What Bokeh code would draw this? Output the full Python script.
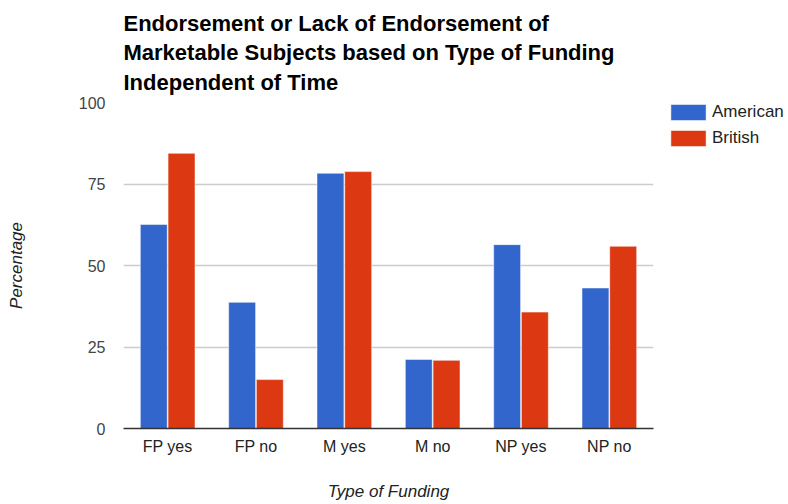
from bokeh.plotting import figure
from bokeh.layouts import row
from bokeh.models import (ColumnDataSource, FactorRange, Range1d, FixedTicker,
                          Legend, LegendItem)
from bokeh.transform import dodge
from bokeh.embed import file_html
from bokeh.resources import INLINE

categories = ["FP yes", "FP no", "M yes", "M no", "NP yes", "NP no"]
american = [62.6, 38.7, 78.3, 21.2, 56.4, 43.1]
british = [84.4, 15.0, 78.8, 20.9, 35.7, 55.9]
y_ticks = [0, 25, 50, 75, 100]
series_names = ["American", "British"]
title_lines = ["Endorsement or Lack of Endorsement of",
               "Marketable Subjects based on Type of Funding",
               "Independent of Time"]

FONT = "Liberation Sans"
BLUE = "#3366cc"
RED = "#dc3912"

src = ColumnDataSource(dict(cat=categories, american=american, british=british))

p = figure(width=660, height=504, output_backend="svg", toolbar_location=None,
           x_range=FactorRange(*categories, range_padding=0), y_range=Range1d(0, 100),
           min_border_left=123, min_border_right=7, min_border_top=102,
           min_border_bottom=76, title="\n".join(title_lines))
p.outline_line_color = None
p.background_fill_color = "white"

bar_style = dict(line_color="white", line_alpha=0.5, line_width=1)
p.vbar(x=dodge("cat", -0.157, range=p.x_range), top="american", width=0.305,
       source=src, fill_color=BLUE, **bar_style)
p.vbar(x=dodge("cat", 0.157, range=p.x_range), top="british", width=0.305,
       source=src, fill_color=RED, **bar_style)

# axes
p.yaxis.ticker = FixedTicker(ticks=y_ticks)
p.yaxis.axis_line_color = None
p.yaxis.major_tick_line_color = None
p.yaxis.minor_tick_line_color = None
p.yaxis.major_label_standoff = 12
p.yaxis.major_label_text_font = FONT
p.yaxis.major_label_text_font_size = "16px"
p.yaxis.major_label_text_color = "#444444"
p.yaxis.axis_label = "Percentage"
p.yaxis.axis_label_text_font = FONT
p.yaxis.axis_label_text_font_style = "italic"
p.yaxis.axis_label_text_font_size = "17px"
p.yaxis.axis_label_text_color = "#222222"
p.yaxis.axis_label_standoff = 50

p.xaxis.axis_line_color = "#333333"
p.xaxis.axis_line_width = 1.5
p.xaxis.major_tick_line_color = None
p.xaxis.minor_tick_line_color = None
p.xaxis.major_label_standoff = 3
p.xaxis.major_label_text_font = FONT
p.xaxis.major_label_text_font_size = "16px"
p.xaxis.major_label_text_color = "#222222"
p.xaxis.axis_label = "Type of Funding"
p.xaxis.axis_label_text_font = FONT
p.xaxis.axis_label_text_font_style = "italic"
p.xaxis.axis_label_text_font_size = "17px"
p.xaxis.axis_label_text_color = "#222222"
p.xaxis.axis_label_standoff = 24

p.xgrid.grid_line_color = None
p.ygrid.grid_line_color = "#cccccc"
p.ygrid.grid_line_width = 1.5

p.title.text_font = FONT
p.title.text_font_style = "bold"
p.title.text_font_size = "22px"
p.title.text_color = "#000000"
p.title.align = "left"
p.title.text_line_height = 1.18
p.title.standoff = 16

# legend panel to the right of the chart (its frame is aligned with the chart's)
lg = figure(width=128, height=504, output_backend="svg", toolbar_location=None,
            x_range=Range1d(0, 1), y_range=Range1d(0, 1), min_border=0)
lg.axis.visible = False
lg.grid.visible = False
lg.outline_line_color = None
# legend glyph renderers: same data, positioned outside this panel's visible range
la = lg.vbar(x="american", top="american", width=0.3, source=src, fill_color=BLUE, **bar_style)
lb = lg.vbar(x="british", top="british", width=0.3, source=src, fill_color=RED, **bar_style)
legend = Legend(items=[LegendItem(label=series_names[0], renderers=[la]),
                       LegendItem(label=series_names[1], renderers=[lb])],
                location="top_left", orientation="vertical",
                glyph_width=44, glyph_height=20, label_height=20, spacing=6,
                padding=0, margin=0, label_standoff=2,
                label_text_font=FONT, label_text_font_size="17px",
                label_text_color="#222222", border_line_color=None,
                background_fill_alpha=0)
lg.add_layout(legend, "center")
lg.min_border_left = 6

layout = row(p, lg)
open("out.html", "w").write(file_html(layout, INLINE))
